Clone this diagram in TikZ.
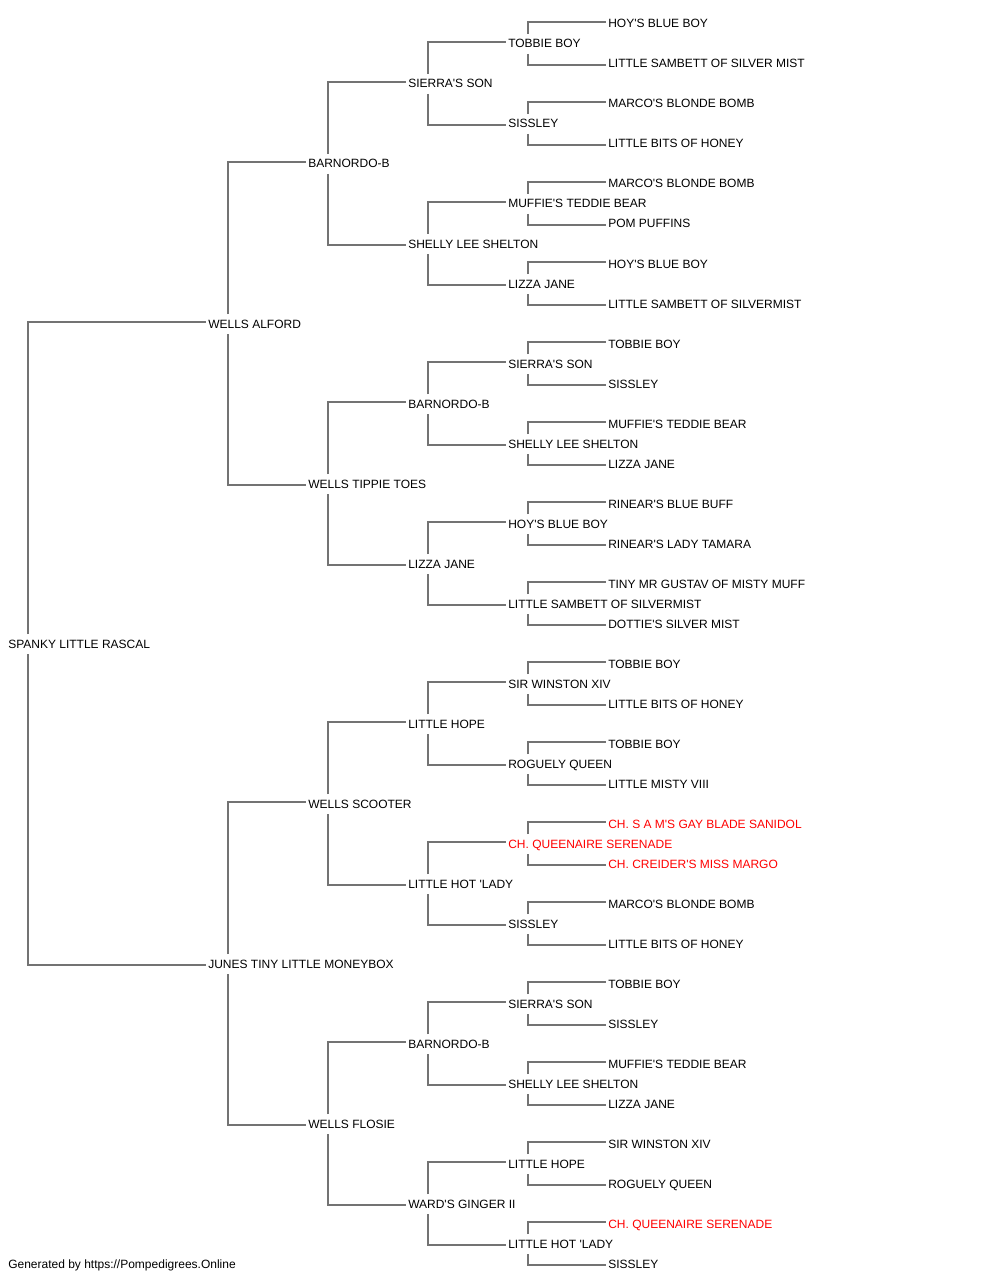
\documentclass[tikz,border=0pt]{standalone}
\usepackage{fontspec}
\newfontfamily\pf{Liberation Sans}
\usetikzlibrary{calc}
\definecolor{linegray}{RGB}{115,115,115}
\definecolor{pred}{RGB}{255,0,0}
\tikzset{
  lbl/.style={anchor=base west, inner sep=0pt, font=\pf\fontsize{9pt}{11pt}\selectfont, text=black},
  redlbl/.style={lbl, text=pred},
  conn/.style={draw=linegray, line width=0.9pt}
}
\newcommand\pedbr[3]{%
  \draw[conn] ($(#1.base west)+(20,-14)$) |- ($(#2.base west)+(-2,-6)$);
  \draw[conn] ($(#1.base west)+(20,6)$) |- ($(#3.base west)+(-2,-3)$);
}
\begin{document}
\begin{tikzpicture}[x=0.75pt, y=-0.75pt]
\fill[white] (0,0) rectangle (1000,1280);
\useasboundingbox (0,0) rectangle (1000,1280);
% generation 0
\node[lbl] (s) at (8,648) {SPANKY LITTLE RASCAL};
% generation 1
\node[lbl] (a) at (208,328) {WELLS ALFORD};
\node[lbl] (b) at (208,968) {JUNES TINY LITTLE MONEYBOX};
% generation 2
\node[lbl] (aa) at (308,168) {BARNORDO-B};
\node[lbl] (ab) at (308,488) {WELLS TIPPIE TOES};
\node[lbl] (ba) at (308,808) {WELLS SCOOTER};
\node[lbl] (bb) at (308,1128) {WELLS FLOSIE};
% generation 3
\node[lbl] (aaa) at (408,88) {SIERRA'S SON};
\node[lbl] (aab) at (408,248) {SHELLY LEE SHELTON};
\node[lbl] (aba) at (408,408) {BARNORDO-B};
\node[lbl] (abb) at (408,568) {LIZZA JANE};
\node[lbl] (baa) at (408,728) {LITTLE HOPE};
\node[lbl] (bab) at (408,888) {LITTLE HOT 'LADY};
\node[lbl] (bba) at (408,1048) {BARNORDO-B};
\node[lbl] (bbb) at (408,1208) {WARD'S GINGER II};
% generation 4
\node[lbl] (aaaa) at (508,48) {TOBBIE BOY};
\node[lbl] (aaab) at (508,128) {SISSLEY};
\node[lbl] (aaba) at (508,208) {MUFFIE'S TEDDIE BEAR};
\node[lbl] (aabb) at (508,288) {LIZZA JANE};
\node[lbl] (abaa) at (508,368) {SIERRA'S SON};
\node[lbl] (abab) at (508,448) {SHELLY LEE SHELTON};
\node[lbl] (abba) at (508,528) {HOY'S BLUE BOY};
\node[lbl] (abbb) at (508,608) {LITTLE SAMBETT OF SILVERMIST};
\node[lbl] (baaa) at (508,688) {SIR WINSTON XIV};
\node[lbl] (baab) at (508,768) {ROGUELY QUEEN};
\node[redlbl] (baba) at (508,848) {CH. QUEENAIRE SERENADE};
\node[lbl] (babb) at (508,928) {SISSLEY};
\node[lbl] (bbaa) at (508,1008) {SIERRA'S SON};
\node[lbl] (bbab) at (508,1088) {SHELLY LEE SHELTON};
\node[lbl] (bbba) at (508,1168) {LITTLE HOPE};
\node[lbl] (bbbb) at (508,1248) {LITTLE HOT 'LADY};
% generation 5
\node[lbl] (aaaaa) at (608,28) {HOY'S BLUE BOY};
\node[lbl] (aaaab) at (608,68) {LITTLE SAMBETT OF SILVER MIST};
\node[lbl] (aaaba) at (608,108) {MARCO'S BLONDE BOMB};
\node[lbl] (aaabb) at (608,148) {LITTLE BITS OF HONEY};
\node[lbl] (aabaa) at (608,188) {MARCO'S BLONDE BOMB};
\node[lbl] (aabab) at (608,228) {POM PUFFINS};
\node[lbl] (aabba) at (608,268) {HOY'S BLUE BOY};
\node[lbl] (aabbb) at (608,308) {LITTLE SAMBETT OF SILVERMIST};
\node[lbl] (abaaa) at (608,348) {TOBBIE BOY};
\node[lbl] (abaab) at (608,388) {SISSLEY};
\node[lbl] (ababa) at (608,428) {MUFFIE'S TEDDIE BEAR};
\node[lbl] (ababb) at (608,468) {LIZZA JANE};
\node[lbl] (abbaa) at (608,508) {RINEAR'S BLUE BUFF};
\node[lbl] (abbab) at (608,548) {RINEAR'S LADY TAMARA};
\node[lbl] (abbba) at (608,588) {TINY MR GUSTAV OF MISTY MUFF};
\node[lbl] (abbbb) at (608,628) {DOTTIE'S SILVER MIST};
\node[lbl] (baaaa) at (608,668) {TOBBIE BOY};
\node[lbl] (baaab) at (608,708) {LITTLE BITS OF HONEY};
\node[lbl] (baaba) at (608,748) {TOBBIE BOY};
\node[lbl] (baabb) at (608,788) {LITTLE MISTY VIII};
\node[redlbl] (babaa) at (608,828) {CH. S A M'S GAY BLADE SANIDOL};
\node[redlbl] (babab) at (608,868) {CH. CREIDER'S MISS MARGO};
\node[lbl] (babba) at (608,908) {MARCO'S BLONDE BOMB};
\node[lbl] (babbb) at (608,948) {LITTLE BITS OF HONEY};
\node[lbl] (bbaaa) at (608,988) {TOBBIE BOY};
\node[lbl] (bbaab) at (608,1028) {SISSLEY};
\node[lbl] (bbaba) at (608,1068) {MUFFIE'S TEDDIE BEAR};
\node[lbl] (bbabb) at (608,1108) {LIZZA JANE};
\node[lbl] (bbbaa) at (608,1148) {SIR WINSTON XIV};
\node[lbl] (bbbab) at (608,1188) {ROGUELY QUEEN};
\node[redlbl] (bbbba) at (608,1228) {CH. QUEENAIRE SERENADE};
\node[lbl] (bbbbb) at (608,1268) {SISSLEY};
% footer
\node[lbl] (foot) at (8,1268) {Generated by https://Pompedigrees.Online};
% connectors
\pedbr{s}{a}{b}
\pedbr{a}{aa}{ab}
\pedbr{b}{ba}{bb}
\pedbr{aa}{aaa}{aab}
\pedbr{ab}{aba}{abb}
\pedbr{ba}{baa}{bab}
\pedbr{bb}{bba}{bbb}
\pedbr{aaa}{aaaa}{aaab}
\pedbr{aab}{aaba}{aabb}
\pedbr{aba}{abaa}{abab}
\pedbr{abb}{abba}{abbb}
\pedbr{baa}{baaa}{baab}
\pedbr{bab}{baba}{babb}
\pedbr{bba}{bbaa}{bbab}
\pedbr{bbb}{bbba}{bbbb}
\pedbr{aaaa}{aaaaa}{aaaab}
\pedbr{aaab}{aaaba}{aaabb}
\pedbr{aaba}{aabaa}{aabab}
\pedbr{aabb}{aabba}{aabbb}
\pedbr{abaa}{abaaa}{abaab}
\pedbr{abab}{ababa}{ababb}
\pedbr{abba}{abbaa}{abbab}
\pedbr{abbb}{abbba}{abbbb}
\pedbr{baaa}{baaaa}{baaab}
\pedbr{baab}{baaba}{baabb}
\pedbr{baba}{babaa}{babab}
\pedbr{babb}{babba}{babbb}
\pedbr{bbaa}{bbaaa}{bbaab}
\pedbr{bbab}{bbaba}{bbabb}
\pedbr{bbba}{bbbaa}{bbbab}
\pedbr{bbbb}{bbbba}{bbbbb}
\end{tikzpicture}
\end{document}
